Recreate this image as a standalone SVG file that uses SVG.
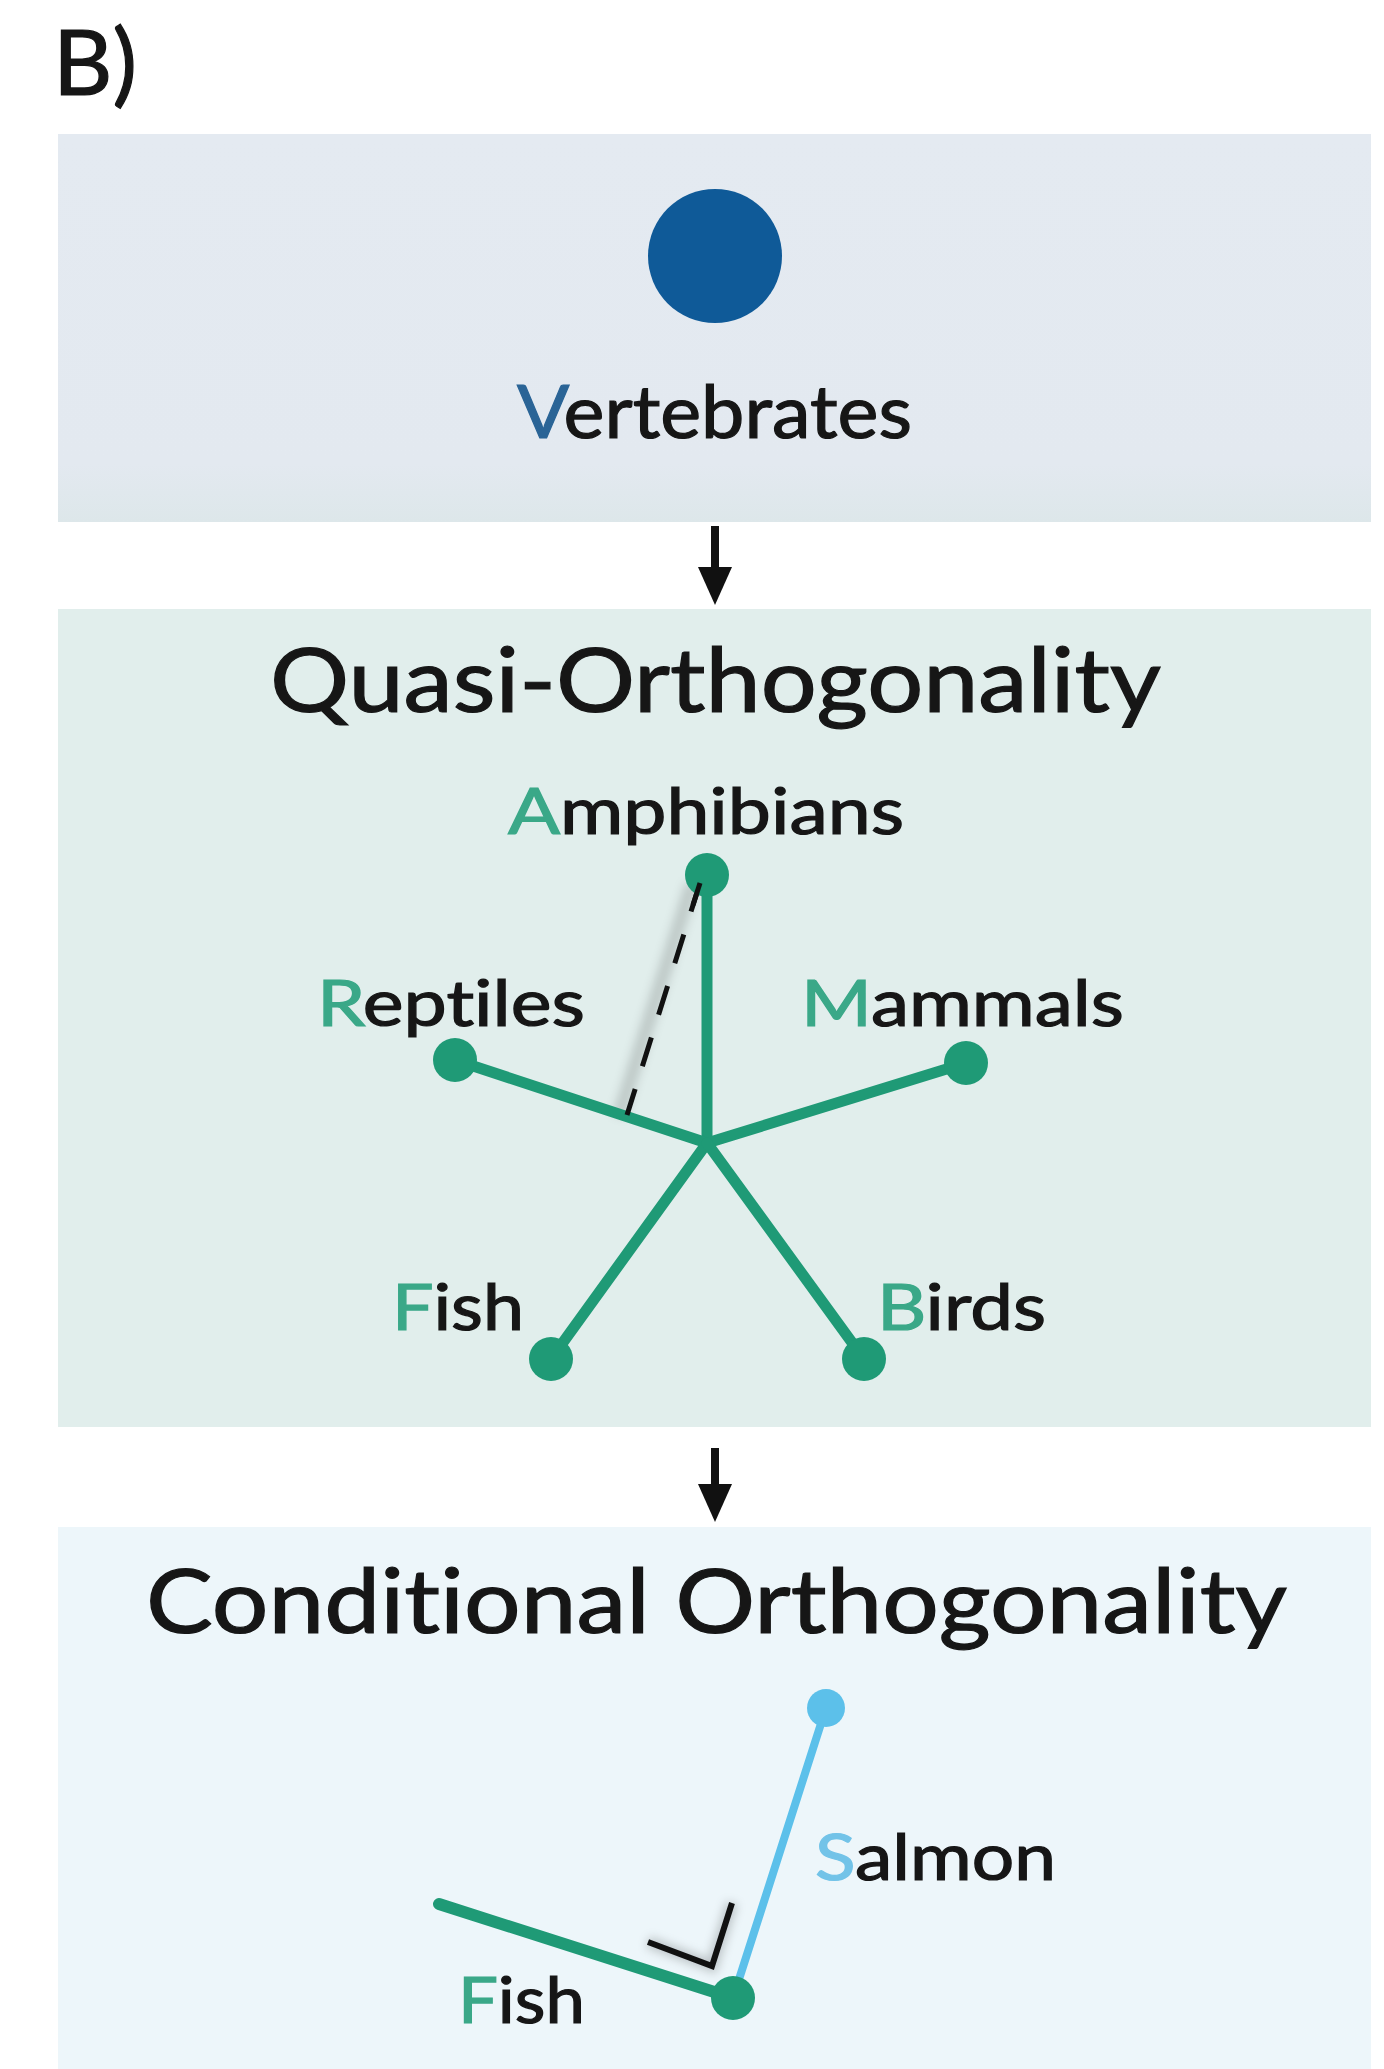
<svg xmlns="http://www.w3.org/2000/svg" width="1384" height="2069" viewBox="0 0 1384 2069">
  <defs>
    <style>
      .lbl { font-family: Lato, "Open Sans", "Liberation Sans", sans-serif; fill: #161616; stroke: #161616; stroke-width: 1.2; paint-order: stroke; font-variant-ligatures: none; font-feature-settings: "liga" 0, "clig" 0; }
      .title { font-size: 90px; }
      .name { font-size: 64px; }
      .g { fill: #3aa888; stroke: #3aa888; }
      .green { stroke: #1f9a76; stroke-width: 11; stroke-linecap: round; fill: none; }
      .gdot { fill: #1f9a76; }
      .arrow { stroke: #111; stroke-width: 8; fill: none; }
    </style>
    <marker id="ah" viewBox="0 0 38 34" refX="1" refY="17" markerWidth="38" markerHeight="34" markerUnits="userSpaceOnUse" orient="auto">
      <path d="M0 0 L38 17 L0 34 Z" fill="#111"/>
    </marker>
    <linearGradient id="g1" x1="0" y1="0" x2="0" y2="1">
      <stop offset="0" stop-color="#e4eaf1"/>
      <stop offset="0.85" stop-color="#e3e9f0"/>
      <stop offset="1" stop-color="#dde7ea"/>
    </linearGradient>
    <filter id="blur" x="-50%" y="-50%" width="200%" height="200%">
      <feGaussianBlur stdDeviation="5"/>
    </filter>
  </defs>

  <rect width="1384" height="2069" fill="#ffffff"/>

  <text id="panel-label" class="lbl" x="53" y="95" font-size="92">B)</text>

  <g id="box-vertebrates">
    <rect x="58" y="134" width="1313" height="388" fill="url(#g1)"/>
    <circle cx="715" cy="256" r="67" fill="#0f5a98"/>
    <text class="lbl" x="517" y="438" font-size="74" textLength="395" lengthAdjust="spacingAndGlyphs"><tspan fill="#2a6496" stroke="#2a6496">V</tspan>ertebrates</text>
  </g>

  <g id="box-quasi">
    <rect x="58" y="609" width="1313" height="818" fill="#e1eeec"/>
    <text class="lbl title" x="270" y="712" textLength="891" lengthAdjust="spacingAndGlyphs">Quasi-Orthogonality</text>
  </g>

  <g id="box-conditional">
    <rect x="58" y="1527" width="1313" height="542" fill="#edf6fa"/>
    <text class="lbl title" x="146" y="1633" textLength="1141" lengthAdjust="spacingAndGlyphs">Conditional Orthogonality</text>
  </g>

  <g id="connectors">
    <line class="arrow" x1="715" y1="526" x2="715" y2="568" marker-end="url(#ah)"/>
    <line class="arrow" x1="715" y1="1448" x2="715" y2="1485" marker-end="url(#ah)"/>
  </g>

  <g id="star">
    <line x1="692" y1="884" x2="619" y2="1116" stroke="#000" stroke-opacity="0.15" stroke-width="14" filter="url(#blur)"/>
    <line class="green" x1="707" y1="1143" x2="707" y2="875"/>
    <line class="green" x1="707" y1="1143" x2="455" y2="1060"/>
    <line class="green" x1="707" y1="1143" x2="966" y2="1063"/>
    <line class="green" x1="707" y1="1143" x2="551" y2="1359"/>
    <line class="green" x1="707" y1="1143" x2="864" y2="1359"/>
    <line x1="700" y1="883" x2="627" y2="1115" stroke="#111" stroke-width="5" stroke-dasharray="30 24"/>
  </g>

  <g id="node-amphibians">
    <circle class="gdot" cx="707" cy="875" r="22"/>
    <line x1="700" y1="883" x2="693" y2="905" stroke="#111" stroke-width="5"/>
    <text class="lbl name" x="508" y="834" textLength="396" lengthAdjust="spacingAndGlyphs"><tspan class="g">A</tspan>mphibians</text>
  </g>
  <g id="node-reptiles">
    <circle class="gdot" cx="455" cy="1060" r="22"/>
    <text class="lbl name" x="317" y="1026" textLength="268" lengthAdjust="spacingAndGlyphs"><tspan class="g">R</tspan>eptiles</text>
  </g>
  <g id="node-mammals">
    <circle class="gdot" cx="966" cy="1063" r="22"/>
    <text class="lbl name" x="801" y="1026" textLength="323" lengthAdjust="spacingAndGlyphs"><tspan class="g">M</tspan>ammals</text>
  </g>
  <g id="node-fish">
    <circle class="gdot" cx="551" cy="1359" r="22"/>
    <text class="lbl name" x="392" y="1330" textLength="132" lengthAdjust="spacingAndGlyphs"><tspan class="g">F</tspan>ish</text>
  </g>
  <g id="node-birds">
    <circle class="gdot" cx="864" cy="1359" r="22"/>
    <text class="lbl name" x="877" y="1330" textLength="169" lengthAdjust="spacingAndGlyphs"><tspan class="g">B</tspan>irds</text>
  </g>

  <g id="conditional-vectors">
    <polyline points="648,1942 712,1966 732,1903" fill="none" stroke="#000" stroke-opacity="0.2" stroke-width="12" filter="url(#blur)"/>
    <line x1="733" y1="1998" x2="826" y2="1708" stroke="#5cc0ea" stroke-width="8" stroke-linecap="round"/>
    <line x1="733" y1="1998" x2="439" y2="1904" stroke="#1f9a76" stroke-width="12" stroke-linecap="round"/>
    <polyline points="648,1942 712,1966 732,1903" fill="none" stroke="#111" stroke-width="6"/>
  </g>
  <g id="node-salmon">
    <circle cx="826" cy="1708" r="19" fill="#5cc0ea"/>
    <text class="lbl name" x="815" y="1880" textLength="241" lengthAdjust="spacingAndGlyphs"><tspan fill="#72c3e8" stroke="#72c3e8">S</tspan>almon</text>
  </g>
  <g id="node-fish-2">
    <circle class="gdot" cx="733" cy="1998" r="22"/>
    <text class="lbl name" x="458" y="2023" textLength="127" lengthAdjust="spacingAndGlyphs"><tspan class="g">F</tspan>ish</text>
  </g>
</svg>
